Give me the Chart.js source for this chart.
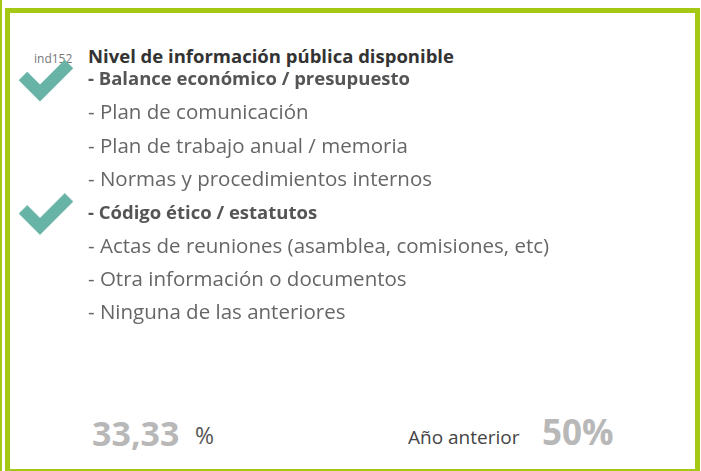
<!DOCTYPE html>
<html lang="es">
<head>
    <meta charset="UTF-8">
    <title>Nivel de información pública disponible</title>
    <script src="https://cdn.jsdelivr.net/npm/chart.js"></script>
    <style>
        body { margin: 0; background: #fff; font-family: "Open Sans", sans-serif; }
        .strip { position: absolute; left: 0; top: 0; width: 2px; height: 471px; background: #a5c814; }
        .box { position: absolute; left: 5px; top: 8px; width: 695px; height: 466px; box-sizing: border-box; border: 5px solid #a5c814; }
        .abs { position: absolute; line-height: 1; white-space: nowrap; }
        #code { left: 34px; top: 53px; font-size: 12px; color: #777; }
        #title { left: 88px; top: 47px; font-size: 18.5px; font-weight: bold; color: #333; }
        #current { left: 92px; top: 416px; font-size: 34px; font-weight: bold; color: #b8b8b8; }
        #pct { left: 195px; top: 424px; font-size: 23px; color: #555; }
        #prevLabel { left: 408px; top: 428px; font-size: 19px; color: #444; }
        #previous { left: 542px; top: 414px; font-size: 35px; font-weight: bold; color: #b8b8b8; }
        canvas { position: absolute; left: 0; top: 0; }
    </style>
</head>
<body>
    <div class="strip"></div>
    <div class="box"></div>
    <div class="abs" id="code"></div>
    <div class="abs" id="title"></div>
    <div class="abs" id="current"></div>
    <div class="abs" id="pct">%</div>
    <div class="abs" id="prevLabel"></div>
    <div class="abs" id="previous"></div>
    <canvas id="chart" width="701" height="471"></canvas>

    <script>
        // Indicator data
        const indicatorCode = 'ind152';
        const indicatorTitle = 'Nivel de información pública disponible';
        const items = [
            '- Balance económico / presupuesto',
            '- Plan de comunicación',
            '- Plan de trabajo anual / memoria',
            '- Normas y procedimientos internos',
            '- Código ético / estatutos',
            '- Actas de reuniones (asamblea, comisiones, etc)',
            '- Otra información o documentos',
            '- Ninguna de las anteriores'
        ];
        const checked = [true, false, false, false, true, false, false, false];
        const currentValue = '33,33';
        const previousLabel = 'Año anterior';
        const previousValue = '50%';

        document.getElementById('code').textContent = indicatorCode;
        document.getElementById('title').textContent = indicatorTitle;
        document.getElementById('current').textContent = currentValue;
        document.getElementById('prevLabel').textContent = previousLabel;
        document.getElementById('previous').textContent = previousValue;

        // checkmark used as point style
        const checkImg = document.createElement('canvas');
        checkImg.width = 60;
        checkImg.height = 48;
        const g = checkImg.getContext('2d');
        g.strokeStyle = '#67b3a6';
        g.lineWidth = 12;
        g.lineCap = 'butt';
        g.lineJoin = 'miter';
        g.beginPath();
        g.moveTo(6, 20);
        g.lineTo(23, 37);
        g.lineTo(52, 8);
        g.stroke();

        const font = 'Open Sans';

        new Chart(document.getElementById('chart'), {
            type: 'scatter',
            data: {
                datasets: [{
                    data: items.filter((_, i) => checked[i]).map(label => ({ x: 1, y: label })),
                    pointStyle: checkImg,
                    clip: false
                }]
            },
            options: {
                responsive: false,
                animation: false,
                layout: { padding: { left: 6, top: 63.33, bottom: 141, right: 0 } },
                scales: {
                    x: { type: 'linear', min: 0, max: 2, display: false },
                    y: {
                        type: 'category',
                        labels: items,
                        offset: true,
                        position: 'right',
                        grid: { display: false, drawTicks: false },
                        border: { display: false },
                        afterFit: scale => { scale.width = 613; },
                        ticks: {
                            padding: 0,
                            autoSkip: false,
                            color: c => checked[c.index] ? '#555' : '#666',
                            font: c => checked[c.index]
                                ? { family: font, size: 18.5, weight: 'bold' }
                                : { family: font, size: 20.5, weight: 'normal' }
                        }
                    }
                },
                plugins: {
                    legend: { display: false },
                    tooltip: { enabled: false }
                }
            }
        });
    </script>
</body>
</html>
